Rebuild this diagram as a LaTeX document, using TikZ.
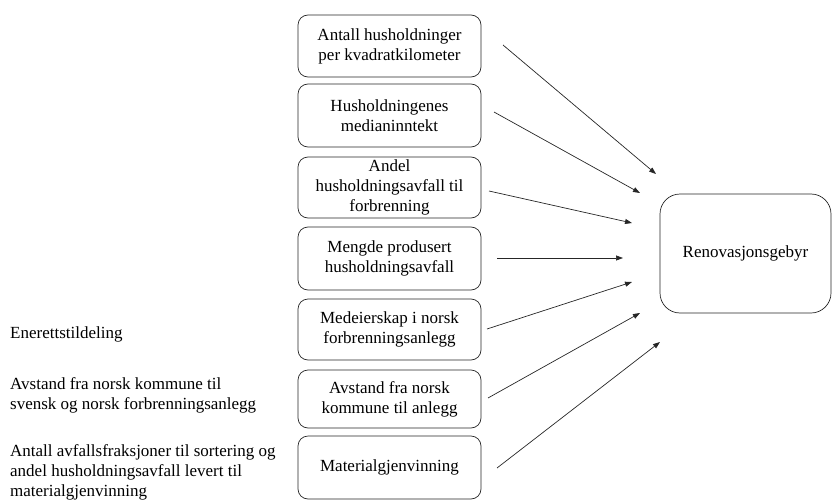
\documentclass[tikz,border=0pt]{standalone}
\usepackage{fontspec}
\setmainfont{Liberation Serif}
\usetikzlibrary{arrows.meta}
\begin{document}
\begin{tikzpicture}[x=1pt,y=-1pt,
  every node/.style={font=\fontsize{17}{20}\selectfont},
  factor/.style={draw=black!85, line width=0.7pt, rounded corners=10pt,
    minimum width=183pt, align=center, inner sep=0pt},
  outcome/.style={draw=black!85, line width=0.7pt, rounded corners=20pt,
    minimum width=171pt, minimum height=119pt, align=center},
  note/.style={anchor=west, align=left, inner sep=0pt},
  link/.style={draw=black!85, line width=0.7pt, -{Triangle[length=7pt,width=5pt]}}]
\useasboundingbox (0,0) rectangle (832,503);

% explanatory factors
\node[factor, minimum height=62pt] (b1) at (389.5,46) {Antall husholdninger\\per kvadratkilometer};
\node[factor, minimum height=63pt] (b2) at (389.5,115.5) {Husholdningenes\\medianinntekt};
\node[factor, minimum height=61pt] (b3) at (389.5,187.5) {Andel\\husholdningsavfall til\\forbrenning};
\node[factor, minimum height=63pt] (b4) at (389.5,258.5) {Mengde produsert\\husholdningsavfall};
\node[factor, minimum height=61pt] (b5) at (389.5,329.5) {Medeierskap i norsk\\forbrenningsanlegg};
\node[factor, minimum height=58pt] (b6) at (389.5,399) {Avstand fra norsk\\kommune til anlegg};
\node[factor, minimum height=63pt] (b7) at (389.5,467.5) {Materialgjenvinning};

% outcome
\node[outcome] (res) at (745.5,253.5) {Renovasjonsgebyr};

% operationalisations
\node[note] (n1) at (10,334) {Enerettstildeling};
\node[note] (n2) at (10,395) {Avstand fra norsk kommune til\\svensk og norsk forbrenningsanlegg};
\node[note] (n3) at (10,472) {Antall avfallsfraksjoner til sortering og\\andel husholdningsavfall levert til\\materialgjenvinning};

% arrow end points
\coordinate (s1) at (503,45);  \coordinate (e1) at (656,174);
\coordinate (s2) at (494,112); \coordinate (e2) at (640,193);
\coordinate (s3) at (489,191); \coordinate (e3) at (632,223);
\coordinate (s4) at (497,258); \coordinate (e4) at (623,258);
\coordinate (s5) at (487,329); \coordinate (e5) at (632,282);
\coordinate (s6) at (488,398); \coordinate (e6) at (640,313);
\coordinate (s7) at (497,468); \coordinate (e7) at (660,342);

\foreach \i in {1,...,7} \draw[link] (s\i) -- (e\i);
\end{tikzpicture}
\end{document}
